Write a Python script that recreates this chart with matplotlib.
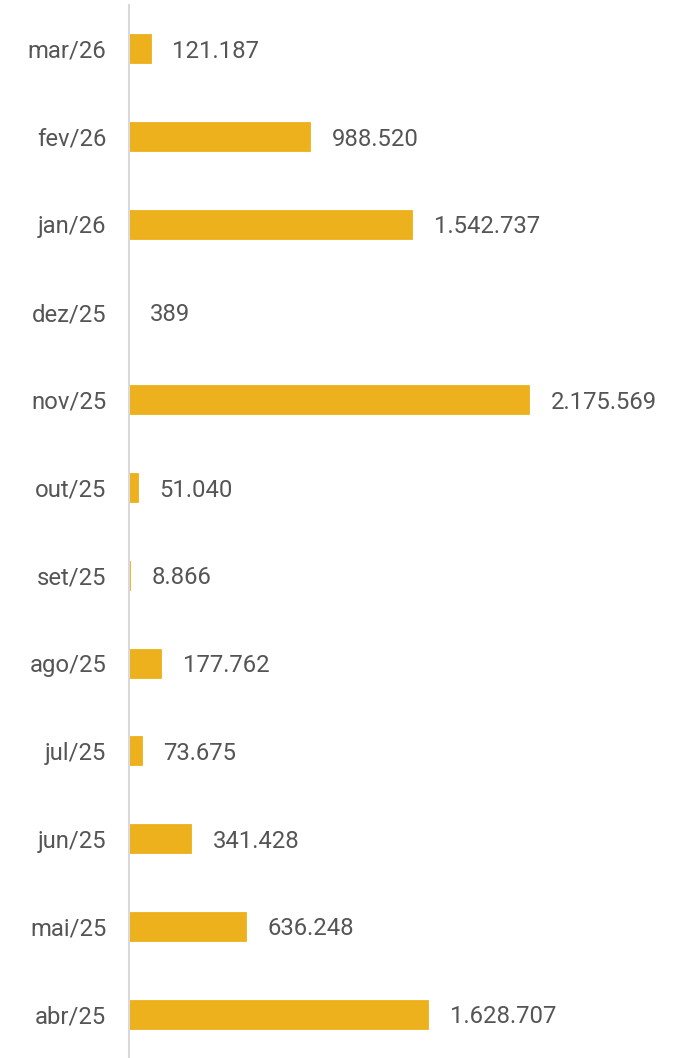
import matplotlib
matplotlib.use("Agg")
import matplotlib.pyplot as plt

categories = ["abr/25", "mai/25", "jun/25", "jul/25", "ago/25", "set/25",
              "out/25", "nov/25", "dez/25", "jan/26", "fev/26", "mar/26"]
values = [1628707, 636248, 341428, 73675, 177762, 8866,
          51040, 2175569, 389, 1542737, 988520, 121187]

def fmt(v):
    return f"{v:,}".replace(",", ".")

plt.rcParams['font.family'] = ['Roboto', 'DejaVu Sans']
fig = plt.figure(figsize=(6.86, 10.58), dpi=100)
ax = fig.add_axes([128.5/686, 0, 557/686, 1053/1058])

bar_color = "#EDB11E"
text_color = "#555555"
ys = list(range(len(categories)))
ax.barh(ys, values, height=0.33, color=bar_color, edgecolor=bar_color, linewidth=0.6)
ax.set_ylim(-0.5, len(categories) - 0.5)
ax.set_xlim(0, 555 / 0.0001834)

for y, v in zip(ys, values):
    ax.annotate(fmt(v), (v, y), xytext=(15.5, 0), textcoords="offset points",
                va="center_baseline", ha="left", fontsize=17.2, color=text_color)

ax.set_yticks(ys)
ax.set_yticklabels(categories, fontsize=17.2, color=text_color)
ax.tick_params(axis="y", length=0, pad=16)
ax.set_xticks([])
for s in ["top", "right", "bottom"]:
    ax.spines[s].set_visible(False)
ax.spines["left"].set_color("#D9D9D9")
ax.spines["left"].set_linewidth(1.5)

fig.savefig("out.png", dpi=100)
